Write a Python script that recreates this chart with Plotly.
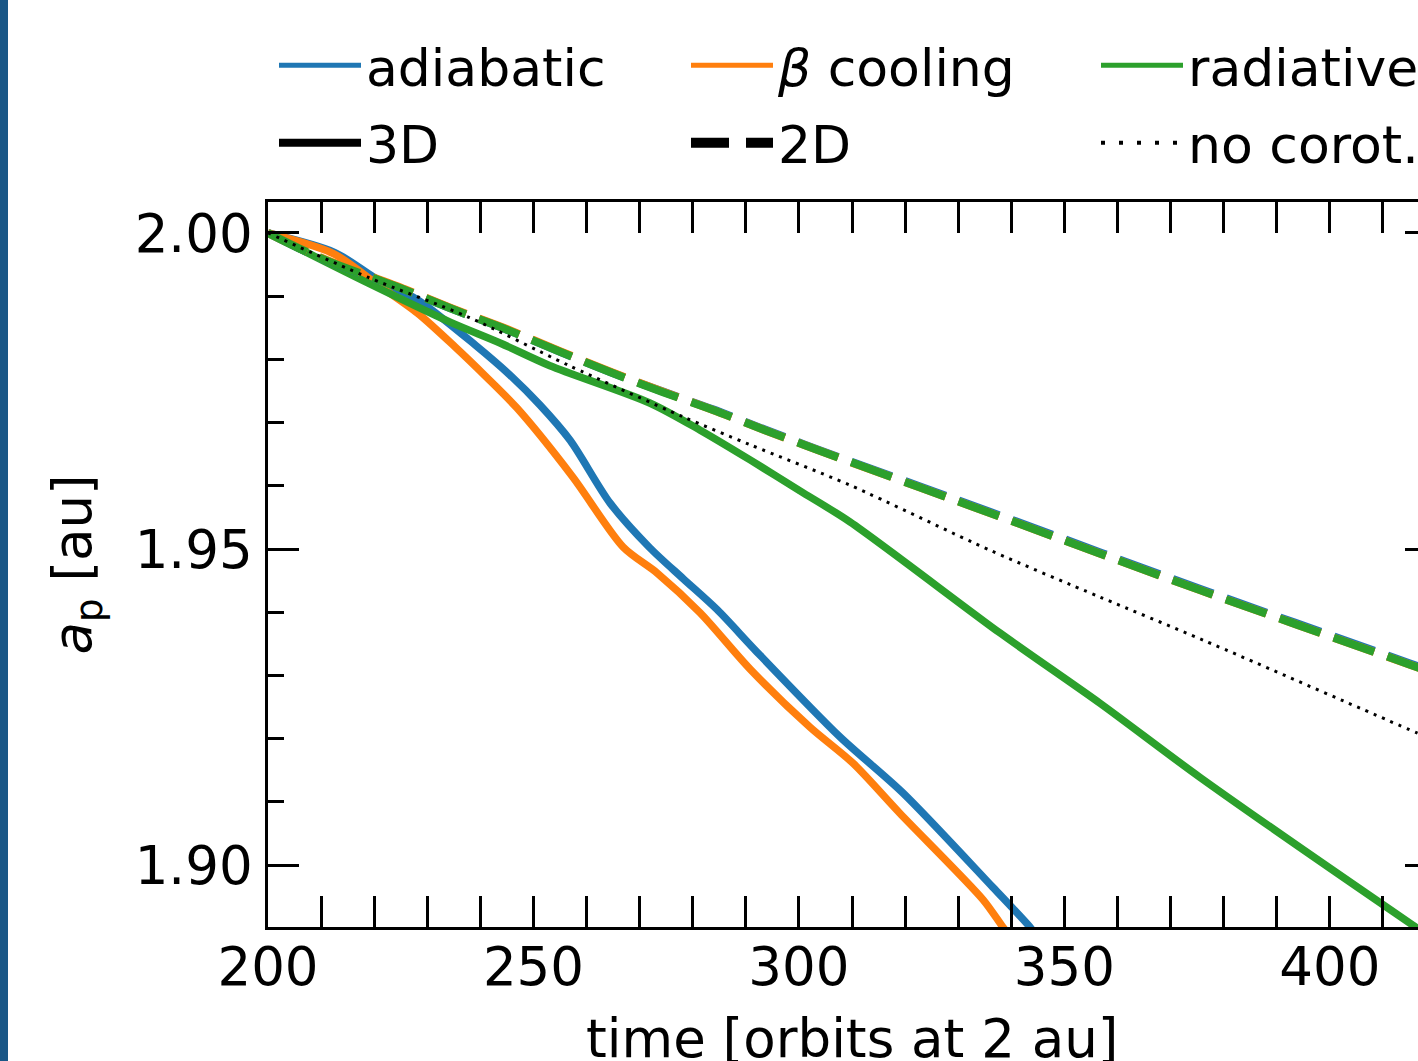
import plotly.graph_objects as go

# ---------------- data ----------------
t_adi3d = [200, 212.6, 220.7, 228.2, 239.0, 245.6, 251.2, 256.9, 264.4, 271.9,
           278.2, 284.6, 292.1, 307.7, 319.6, 336.5, 343.5, 345.0]
a_adi3d = [2.0000, 1.9969, 1.9926, 1.9894, 1.9823, 1.9775, 1.9728, 1.9672, 1.9573, 1.9502,
           1.9453, 1.9404, 1.9337, 1.9203, 1.9114, 1.8965, 1.8902, 1.8885]

t_beta3d = [200, 212.4, 220.7, 228.2, 235.2, 240.9, 246.9, 257.4, 266.9, 273.3,
            281.4, 290.8, 302.1, 310.2, 319.0, 334.7, 338.4, 340.0]
a_beta3d = [2.0000, 1.9967, 1.9918, 1.9873, 1.9820, 1.9774, 1.9723, 1.9614, 1.9503, 1.9462,
            1.9399, 1.9310, 1.9218, 1.9161, 1.9082, 1.8945, 1.8902, 1.8885]

t_rad3d = [200, 218.8, 234.3, 243.7, 253.1, 271.9, 281.4, 290.8, 300.2, 309.6,
           337.9, 356.7, 375.5, 415.6, 420]
a_rad3d = [2.0000, 1.9921, 1.9859, 1.9826, 1.9790, 1.9731, 1.9688, 1.9641, 1.9592, 1.9543,
           1.9367, 1.9256, 1.9139, 1.8905, 1.8880]

t_2d = [200, 209.4, 225.8, 235.2, 245.0, 255.0, 264.4, 274.4, 283.8, 293.6, 303.4,
        337.9, 375.5, 415.1, 420]
a_adi2d = [2.0000, 1.9962, 1.9910, 1.9878, 1.9847, 1.9812, 1.9780, 1.9749, 1.9721, 1.9689, 1.9658,
           1.9553, 1.9437, 1.9319, 1.9304]
a_beta2d = [2.0000, 1.9963, 1.9911, 1.9879, 1.9848, 1.9813, 1.9781, 1.9749, 1.9720, 1.9688, 1.9657,
            1.9551, 1.9435, 1.9317, 1.9302]
a_rad2d = [2.0000, 1.9962, 1.9910, 1.9878, 1.9847, 1.9812, 1.9780, 1.9748, 1.9720, 1.9688, 1.9657,
           1.9551, 1.9435, 1.9317, 1.9302]

t_nocorot = [200, 218.8, 237.7, 256.5, 278.2, 290.8, 309.6, 336.0, 356.7, 376.1, 416.4, 420]
a_nocorot = [2.0000, 1.9930, 1.9867, 1.9791, 1.9709, 1.9665, 1.9601, 1.9498, 1.9424, 1.9356, 1.9209, 1.9196]

x_ticks = [200, 250, 300, 350, 400]
y_ticks = [1.90, 1.95, 2.00]

C_BLUE = "#1f77b4"
C_ORANGE = "#ff7f0e"
C_GREEN = "#2ca02c"
FONT = "DejaVu Sans"
FS = 53

fig = go.Figure()

# solid 3D runs
for xx, yy, cc in [(t_adi3d, a_adi3d, C_BLUE), (t_beta3d, a_beta3d, C_ORANGE), (t_rad3d, a_rad3d, C_GREEN)]:
    fig.add_trace(go.Scatter(x=xx, y=yy, mode="lines", showlegend=False,
                             line=dict(color=cc, width=7.5, shape="spline", smoothing=0.8)))
# dashed 2D runs
for yy, cc in [(a_adi2d, C_BLUE), (a_beta2d, C_ORANGE), (a_rad2d, C_GREEN)]:
    fig.add_trace(go.Scatter(x=t_2d, y=yy, mode="lines", showlegend=False,
                             line=dict(color=cc, width=8, dash="43px,14px", shape="spline", smoothing=0.8)))
# no corotation
fig.add_trace(go.Scatter(x=t_nocorot, y=a_nocorot, mode="lines", showlegend=False,
                         line=dict(color="black", width=3, dash="3px,6px", shape="spline", smoothing=0.8)))

# legend entries (one legend per entry for matplotlib-like grid placement)
legend_entries = [
    ("adiabatic", dict(color=C_BLUE, width=5), "legend"),
    ("<i>β</i> cooling", dict(color=C_ORANGE, width=5), "legend2"),
    ("radiative", dict(color=C_GREEN, width=5), "legend3"),
    ("3D", dict(color="black", width=8), "legend4"),
    ("2D", dict(color="black", width=11, dash="38px,17px"), "legend5"),
    ("no corot.", dict(color="black", width=4, dash="4px,14px"), "legend6"),
]
for name, ln, lg in legend_entries:
    fig.add_trace(go.Scatter(x=[None], y=[None], mode="lines", name=name, line=ln,
                             legend=lg, showlegend=True))

W, H = 1418, 1061
col_x = [274, 686, 1096]
row_y = [65.5, 143]
legend_layout = {}
names = ["legend", "legend2", "legend3", "legend4", "legend5", "legend6"]
for i, lg in enumerate(names):
    r, c = divmod(i, 3)
    legend_layout[lg] = dict(
        x=col_x[c] / W, y=1 - row_y[r] / H, xref="container", yref="container",
        xanchor="left", yanchor="middle", orientation="v",
        bgcolor="rgba(0,0,0,0)", borderwidth=0, itemwidth=82,
        font=dict(family=FONT, size=52, color="black"),
    )

axis_common = dict(
    showline=True, linecolor="black", linewidth=2.5,
    ticks="inside", tickcolor="black", tickwidth=2.5, ticklen=31,
    tickfont=dict(family=FONT, size=FS, color="black"),
    showgrid=False, zeroline=False,
)

PW, PH = 1150, 725  # plot area size in px (for placing axis titles)

fig.update_layout(
    width=W, height=H,
    margin=dict(l=268, r=0, t=202, b=134, autoexpand=False),
    paper_bgcolor="white", plot_bgcolor="white",
    font=dict(family=FONT, size=FS, color="black"),
    xaxis=dict(
        range=[200, 416.6], tickvals=x_ticks, mirror="allticks",
        minor=dict(dtick=10, tick0=200, ticks="inside", ticklen=16, tickwidth=2.5, tickcolor="black"),
        ticklabelstandoff=-8,
        **axis_common,
    ),
    yaxis=dict(
        range=[1.8902, 2.0049], tickvals=y_ticks, tickformat=".2f", mirror=False,
        minor=dict(dtick=0.01, tick0=1.9, ticks="inside", ticklen=16, tickwidth=2.5, tickcolor="black"),
        ticklabelstandoff=2,
        **axis_common,
    ),
    yaxis2=dict(
        overlaying="y", side="right", anchor="x", range=[1.8902, 2.0049],
        tickvals=y_ticks, showticklabels=False, showline=False, showgrid=False, zeroline=False,
        ticks="inside", ticklen=13, tickwidth=2.5, tickcolor="black",
    ),
    annotations=[
        dict(text="time [orbits at 2 au]", xref="paper", yref="paper",
             x=(852 - 268) / PW, y=(927 - 1038) / PH, xanchor="center", yanchor="middle",
             showarrow=False, font=dict(family=FONT, size=FS, color="black")),
        dict(text="<i>a</i><sub>p</sub> [au]", xref="paper", yref="paper",
             x=(76 - 268) / PW, y=0.5, xanchor="center", yanchor="middle", textangle=-90,
             showarrow=False, font=dict(family=FONT, size=FS, color="black")),
    ],
    shapes=[dict(type="rect", xref="paper", yref="paper",
                 x0=-268 / PW, x1=-260 / PW, y0=-0.3, y1=1.4,
                 fillcolor="#1a5787", line=dict(width=0), layer="above")],
    **legend_layout,
)

# dummy trace to activate the right-hand tick axis
fig.add_trace(go.Scatter(x=[None], y=[None], yaxis="y2", showlegend=False))

fig.write_html("out.html")
